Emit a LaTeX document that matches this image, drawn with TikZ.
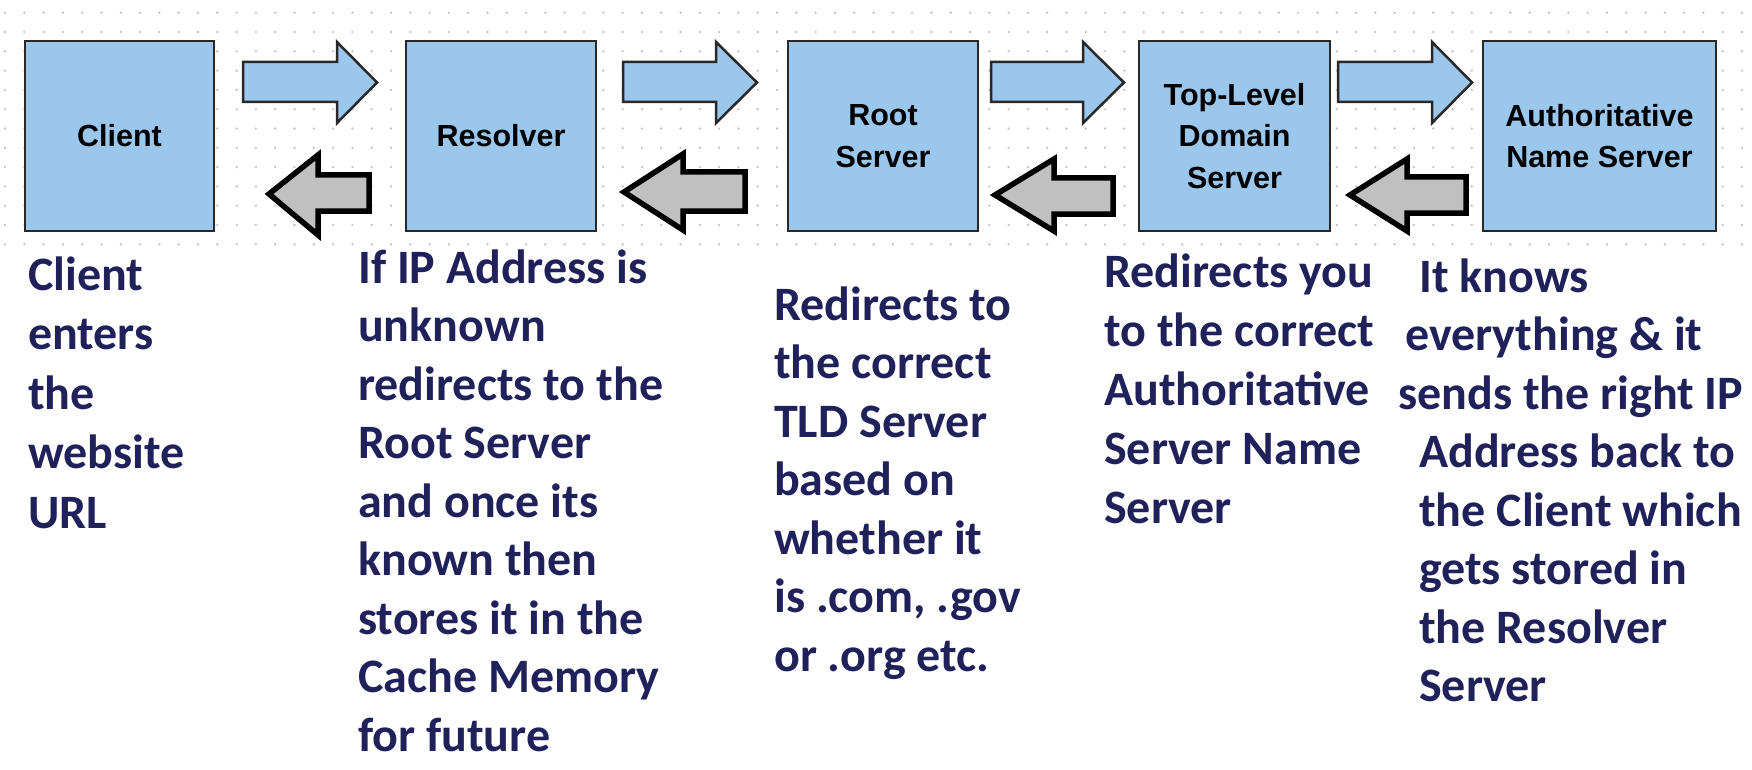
\documentclass[tikz,border=0pt]{standalone}
\usepackage{fontspec}
\newfontfamily\boxfont{Liberation Sans}
\newfontfamily\descfont{Carlito}
\definecolor{boxblue}{RGB}{155,199,236}
\definecolor{edgegray}{RGB}{40,40,40}
\definecolor{arrowgray}{RGB}{192,192,192}
\definecolor{navy}{RGB}{32,33,90}
\definecolor{dotgray}{RGB}{195,195,195}
\newcommand\fwdshape[3]{%
  \draw[fwdarrow] (#1,62) -- (#2,62) -- (#2,42) -- (#3,82.5) -- (#2,123) -- (#2,102) -- (#1,102) -- cycle;}
\newcommand\backshape[8]{%
  \draw[backarrow] (#3,#4) -- (#2,#4) -- (#2,#6) -- (#1,#8) -- (#2,#7) -- (#2,#5) -- (#3,#5) -- cycle;}
\begin{document}
\begin{tikzpicture}[x=1pt,y=-1pt,
  srvbox/.style={draw=edgegray, line width=2.5pt, fill=boxblue, minimum height=190pt,
    align=center, inner sep=0pt, font=\boxfont\bfseries\fontsize{30.5}{41.5}\selectfont},
  desc/.style={anchor=base west, inner sep=0pt, text=navy,
    font=\descfont\bfseries\fontsize{48}{58.5}\selectfont},
  fwdarrow/.style={draw=edgegray, line width=2.5pt, fill=boxblue, line join=miter},
  backarrow/.style={draw=black, line width=5.5pt, fill=arrowgray, line join=miter}]
\clip (0,0) rectangle (1752,770);
\fill[white] (0,0) rectangle (1752,770);
% dot grid
\foreach \i in {0,...,90}{
  \foreach \j in {0,...,12}{
    \fill[dotgray] (5+19.3*\i, 12.7+19.3*\j) circle (1.3);
  }
}
% boxes
\node[srvbox, minimum width=189pt] (client)   at (119.5,136) {Client};
\node[srvbox, minimum width=190pt] (resolver) at (501,136)   {Resolver};
\node[srvbox, minimum width=190pt] (root)     at (883,136)   {Root\\Server};
\node[srvbox, minimum width=191pt] (tld)      at (1234.5,136){Top-Level\\Domain\\Server};
\node[srvbox, minimum width=233pt] (auth)     at (1599.5,136){Authoritative\\Name Server};
% forward arrows
\fwdshape{243}{337}{377}
\fwdshape{623}{716}{757}
\fwdshape{991}{1083}{1124}
\fwdshape{1338}{1432}{1472}
% backward arrows: tip, head back, right end, shaft top, shaft bottom, head top, head bottom, tip y
\backshape{269}{318}{369}{175}{211}{155}{235}{194}
\backshape{624}{683}{745}{172}{211}{154}{230}{192}
\backshape{995}{1054}{1113}{178}{214}{159}{231}{195}
\backshape{1350}{1407}{1466}{177}{213}{159}{231}{195}
% descriptions
\node[desc] (clienttxt) at (28,290) {\fontsize{48}{59.5}\selectfont\begin{tabular}[t]{@{}l@{}}Client\\enters\\the\\website\\URL\end{tabular}};
\node[desc] (resolvertxt) at (358,283) {\begin{tabular}[t]{@{}l@{}}If IP Address is\\unknown\\redirects to the\\Root Server\\and once its\\known then\\stores it in the\\Cache Memory\\for future\end{tabular}};
\node[desc] (roottxt) at (774,320) {\begin{tabular}[t]{@{}l@{}}Redirects to\\the correct\\TLD Server\\based on\\whether it\\is .com, .gov\\or .org etc.\end{tabular}};
\node[desc] (tldtxt) at (1104,287) {\fontsize{48}{59}\selectfont\begin{tabular}[t]{@{}l@{}}Redirects you\\to the correct\\Authoritative\\Server Name\\Server\end{tabular}};
\node[desc] (authtxt) at (1419,292) {\begin{tabular}[t]{@{}l@{}}It knows\\\hspace*{-14pt}everything \& it\\\hspace*{-21pt}sends the right IP\\Address back to\\the Client which\\gets stored in\\the Resolver\\Server\end{tabular}};
\end{tikzpicture}
\end{document}
